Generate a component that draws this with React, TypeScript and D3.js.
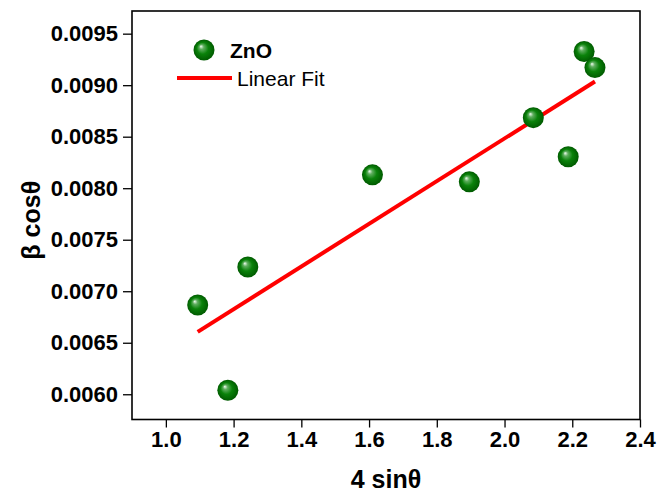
import React, { useEffect, useRef } from "react";
import * as d3 from "d3";

// measured data (4 sinθ, β cosθ)
const xValues = [1.094, 1.183, 1.242, 1.61, 1.896, 2.085, 2.188, 2.235, 2.267];
const yValues = [0.006866, 0.006039, 0.007235, 0.00813, 0.008062, 0.008685, 0.008305, 0.009327, 0.009171];

// linear fit end points
const fitX = [1.094, 2.267];
const fitY = [0.006606, 0.009036];

const xTicks = [1.0, 1.2, 1.4, 1.6, 1.8, 2.0, 2.2, 2.4];
const yTicks = [0.006, 0.0065, 0.007, 0.0075, 0.008, 0.0085, 0.009, 0.0095];

const App = () => {
  const ref = useRef<SVGSVGElement>(null);

  useEffect(() => {
    const svg = d3.select(ref.current);
    svg.selectAll("*").remove();

    const left = 132, right = 640, top = 11, bottom = 419.5;
    const font = "'Liberation Sans', Arial, sans-serif";

    const x = d3.scaleLinear().domain([0.9, 2.4]).range([left, right]);
    const y = d3.scaleLinear().domain([0.005755, 0.00972]).range([bottom, top]);

    const defs = svg.append("defs");
    const grad = defs.append("radialGradient")
      .attr("id", "ball")
      .attr("cx", "50%").attr("cy", "50%").attr("r", "50%")
      .attr("fx", "35%").attr("fy", "32%");
    grad.append("stop").attr("offset", "0%").attr("stop-color", "#f4fff4");
    grad.append("stop").attr("offset", "22%").attr("stop-color", "#5fae5f");
    grad.append("stop").attr("offset", "55%").attr("stop-color", "#0a820a");
    grad.append("stop").attr("offset", "100%").attr("stop-color", "#005a00");

    // axes
    const xAxis = svg.append("g")
      .attr("transform", `translate(0, ${bottom})`)
      .call(d3.axisBottom(x).tickValues(xTicks).tickSize(8).tickPadding(4).tickFormat(d3.format(".1f")));
    const yAxis = svg.append("g")
      .attr("transform", `translate(${left}, 0)`)
      .call(d3.axisLeft(y).tickValues(yTicks).tickSize(9).tickPadding(5).tickFormat(d3.format(".4f")));

    [xAxis, yAxis].forEach(a => {
      a.select(".domain").remove();
      a.selectAll("line").attr("stroke", "#000").attr("stroke-width", 1.3);
      a.selectAll("text")
        .attr("fill", "#000")
        .style("font-family", font)
        .style("font-weight", "bold")
        .style("font-size", "22px");
    });

    // frame
    svg.append("rect")
      .attr("x", left).attr("y", top)
      .attr("width", right - left).attr("height", bottom - top)
      .attr("fill", "none").attr("stroke", "#000").attr("stroke-width", 1.6);

    // fit line
    const line = d3.line<number>()
      .x((d, i) => x(fitX[i]))
      .y(d => y(d));
    svg.append("path")
      .datum(fitY)
      .attr("d", line)
      .attr("stroke", "#ff0000")
      .attr("stroke-width", 4)
      .attr("fill", "none");

    // points
    svg.selectAll(".pt")
      .data(xValues)
      .join("circle")
      .attr("class", "pt")
      .attr("cx", d => x(d))
      .attr("cy", (d, i) => y(yValues[i]))
      .attr("r", 10.5)
      .attr("fill", "url(#ball)");

    // legend
    svg.append("circle")
      .attr("cx", 204).attr("cy", 50).attr("r", 10.5)
      .attr("fill", "url(#ball)");
    svg.append("text")
      .attr("x", 230).attr("y", 58)
      .style("font-family", font).style("font-weight", "bold").style("font-size", "21px")
      .text("ZnO");
    svg.append("line")
      .attr("x1", 177).attr("x2", 232).attr("y1", 78).attr("y2", 78)
      .attr("stroke", "#ff0000").attr("stroke-width", 4);
    svg.append("text")
      .attr("x", 237).attr("y", 86)
      .style("font-family", font).style("font-size", "21px")
      .text("Linear Fit");

    // titles
    svg.append("text")
      .attr("x", (left + right) / 2).attr("y", 488)
      .attr("text-anchor", "middle")
      .style("font-family", font).style("font-weight", "bold").style("font-size", "25px")
      .text("4 sinθ");
    svg.append("text")
      .attr("transform", `translate(40, ${(top + bottom) / 2 + 5}) rotate(-90)`)
      .attr("text-anchor", "middle")
      .style("font-family", font).style("font-weight", "bold").style("font-size", "25px")
      .text("β cosθ");
  }, []);

  return (
    <svg ref={ref} width={657} height={498}
      style={{ position: "absolute", left: 0, top: 0, background: "#fff" }} />
  );
};

export default App;
